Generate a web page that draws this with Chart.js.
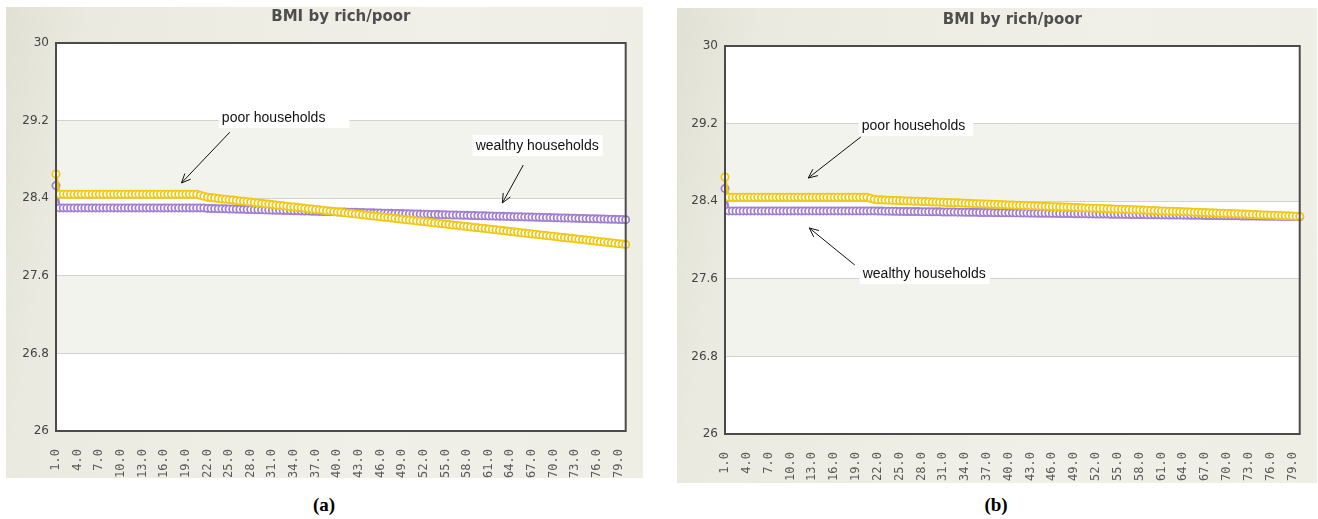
<!DOCTYPE html>
<html>
<head>
<meta charset="utf-8">
<script src="https://cdn.jsdelivr.net/npm/chart.js@4.4.1/dist/chart.umd.min.js"></script>
<style>
body { margin: 0; background: #fff; width: 1318px; height: 519px; position: relative; overflow: hidden; }
.panel { position: absolute; background: linear-gradient(100deg, #e0e1d3 0%, #eaeae0 12%, #f0f0e8 60%, #eeeee5 100%); }
.panel canvas { display: block; }
.cap { position: absolute; top: 495px; width: 60px; text-align: center; font: bold 19px "Liberation Serif", serif; line-height: 20px; color: #000; }
</style>
</head>
<body>
<div class="panel" style="left:6px;top:7px;width:637px;height:471px"><canvas id="chartA" width="637" height="471"></canvas></div>
<div class="panel" style="left:677px;top:8px;width:640px;height:475px"><canvas id="chartB" width="640" height="475"></canvas></div>
<div class="cap" style="left:294px">(a)</div>
<div class="cap" style="left:966px">(b)</div>
<script>
// x categories (time step)
const xLabels = [
  "1.0","1.5","2.0","2.5","3.0","3.5","4.0","4.5","5.0","5.5",
  "6.0","6.5","7.0","7.5","8.0","8.5","9.0","9.5","10.0","10.5",
  "11.0","11.5","12.0","12.5","13.0","13.5","14.0","14.5","15.0","15.5",
  "16.0","16.5","17.0","17.5","18.0","18.5","19.0","19.5","20.0","20.5",
  "21.0","21.5","22.0","22.5","23.0","23.5","24.0","24.5","25.0","25.5",
  "26.0","26.5","27.0","27.5","28.0","28.5","29.0","29.5","30.0","30.5",
  "31.0","31.5","32.0","32.5","33.0","33.5","34.0","34.5","35.0","35.5",
  "36.0","36.5","37.0","37.5","38.0","38.5","39.0","39.5","40.0","40.5",
  "41.0","41.5","42.0","42.5","43.0","43.5","44.0","44.5","45.0","45.5",
  "46.0","46.5","47.0","47.5","48.0","48.5","49.0","49.5","50.0","50.5",
  "51.0","51.5","52.0","52.5","53.0","53.5","54.0","54.5","55.0","55.5",
  "56.0","56.5","57.0","57.5","58.0","58.5","59.0","59.5","60.0","60.5",
  "61.0","61.5","62.0","62.5","63.0","63.5","64.0","64.5","65.0","65.5",
  "66.0","66.5","67.0","67.5","68.0","68.5","69.0","69.5","70.0","70.5",
  "71.0","71.5","72.0","72.5","73.0","73.5","74.0","74.5","75.0","75.5",
  "76.0","76.5","77.0","77.5","78.0","78.5","79.0","79.5","80.0"
]

const yTicks = [26, 26.8, 27.6, 28.4, 29.2, 30]

// panel (a)
const poorA = [
  28.65,28.44,28.44,28.44,28.44,28.44,28.44,28.44,28.44,28.44,
  28.44,28.44,28.44,28.44,28.44,28.44,28.44,28.44,28.44,28.44,
  28.44,28.44,28.44,28.44,28.44,28.44,28.44,28.44,28.44,28.44,
  28.44,28.44,28.44,28.44,28.44,28.44,28.44,28.44,28.44,28.44,
  28.43,28.42,28.410,28.406,28.402,28.397,28.393,28.389,28.385,28.381,
  28.376,28.372,28.368,28.364,28.360,28.355,28.351,28.347,28.343,28.339,
  28.334,28.330,28.326,28.322,28.318,28.313,28.309,28.305,28.301,28.297,
  28.292,28.288,28.284,28.280,28.276,28.271,28.267,28.263,28.259,28.255,
  28.250,28.246,28.242,28.238,28.234,28.229,28.225,28.221,28.217,28.213,
  28.208,28.204,28.200,28.196,28.192,28.187,28.183,28.179,28.175,28.171,
  28.166,28.162,28.158,28.154,28.150,28.145,28.141,28.137,28.133,28.129,
  28.124,28.120,28.116,28.112,28.108,28.103,28.099,28.095,28.091,28.087,
  28.082,28.078,28.074,28.070,28.066,28.061,28.057,28.053,28.049,28.045,
  28.040,28.036,28.032,28.028,28.024,28.019,28.015,28.011,28.007,28.003,
  27.998,27.994,27.990,27.986,27.982,27.977,27.973,27.969,27.965,27.961,
  27.956,27.952,27.948,27.944,27.940,27.935,27.931,27.927,27.923
]
const wealthyA = [
  28.53,28.30,28.30,28.30,28.30,28.30,28.30,28.30,28.30,28.30,
  28.30,28.30,28.30,28.30,28.30,28.30,28.30,28.30,28.30,28.30,
  28.30,28.30,28.30,28.30,28.30,28.30,28.30,28.30,28.30,28.30,
  28.30,28.30,28.30,28.30,28.30,28.30,28.30,28.30,28.30,28.30,
  28.30,28.30,28.295,28.294,28.293,28.292,28.291,28.290,28.289,28.288,
  28.287,28.286,28.285,28.284,28.283,28.282,28.281,28.280,28.279,28.278,
  28.277,28.276,28.275,28.274,28.273,28.272,28.271,28.270,28.269,28.268,
  28.267,28.266,28.265,28.264,28.263,28.262,28.261,28.260,28.259,28.258,
  28.257,28.256,28.255,28.254,28.253,28.252,28.251,28.250,28.249,28.248,
  28.247,28.246,28.245,28.244,28.243,28.242,28.241,28.240,28.239,28.238,
  28.237,28.236,28.235,28.234,28.233,28.232,28.231,28.230,28.229,28.228,
  28.227,28.226,28.225,28.224,28.223,28.222,28.221,28.220,28.219,28.218,
  28.217,28.216,28.215,28.214,28.213,28.212,28.211,28.210,28.209,28.208,
  28.207,28.206,28.205,28.204,28.203,28.202,28.201,28.200,28.199,28.198,
  28.197,28.196,28.195,28.194,28.193,28.192,28.191,28.190,28.189,28.188,
  28.187,28.186,28.185,28.184,28.183,28.182,28.181,28.180,28.179
]

// panel (b)
const poorB = [
  28.65,28.44,28.44,28.44,28.44,28.44,28.44,28.44,28.44,28.44,
  28.44,28.44,28.44,28.44,28.44,28.44,28.44,28.44,28.44,28.44,
  28.44,28.44,28.44,28.44,28.44,28.44,28.44,28.44,28.44,28.44,
  28.44,28.44,28.44,28.44,28.44,28.44,28.44,28.44,28.44,28.44,
  28.43,28.42,28.415,28.414,28.412,28.411,28.409,28.408,28.406,28.405,
  28.403,28.402,28.400,28.399,28.397,28.396,28.394,28.393,28.391,28.390,
  28.389,28.387,28.386,28.384,28.383,28.381,28.380,28.378,28.377,28.375,
  28.374,28.372,28.371,28.369,28.368,28.366,28.365,28.364,28.362,28.361,
  28.359,28.358,28.356,28.355,28.353,28.352,28.350,28.349,28.347,28.346,
  28.344,28.343,28.342,28.340,28.339,28.337,28.336,28.334,28.333,28.331,
  28.330,28.328,28.327,28.325,28.324,28.322,28.321,28.319,28.318,28.317,
  28.315,28.314,28.312,28.311,28.309,28.308,28.306,28.305,28.303,28.302,
  28.300,28.299,28.297,28.296,28.295,28.293,28.292,28.290,28.289,28.287,
  28.286,28.284,28.283,28.281,28.280,28.278,28.277,28.275,28.274,28.272,
  28.271,28.270,28.268,28.267,28.265,28.264,28.262,28.261,28.259,28.258,
  28.256,28.255,28.253,28.252,28.250,28.249,28.247,28.246,28.244
]
const wealthyB = [
  28.53,28.30,28.30,28.30,28.30,28.30,28.30,28.30,28.30,28.30,
  28.30,28.30,28.30,28.30,28.30,28.30,28.30,28.30,28.30,28.30,
  28.30,28.30,28.30,28.30,28.30,28.30,28.30,28.30,28.30,28.30,
  28.30,28.30,28.30,28.30,28.30,28.30,28.30,28.30,28.30,28.30,
  28.30,28.30,28.298,28.298,28.297,28.297,28.296,28.296,28.295,28.295,
  28.294,28.294,28.293,28.293,28.292,28.292,28.291,28.291,28.290,28.290,
  28.289,28.289,28.288,28.288,28.287,28.287,28.286,28.286,28.285,28.285,
  28.284,28.284,28.283,28.283,28.282,28.282,28.281,28.281,28.280,28.280,
  28.279,28.279,28.278,28.278,28.277,28.277,28.276,28.276,28.275,28.275,
  28.274,28.274,28.273,28.273,28.272,28.272,28.271,28.271,28.270,28.270,
  28.269,28.269,28.268,28.268,28.267,28.267,28.266,28.266,28.265,28.265,
  28.264,28.264,28.263,28.263,28.262,28.262,28.261,28.261,28.260,28.260,
  28.259,28.259,28.258,28.258,28.257,28.257,28.256,28.256,28.255,28.255,
  28.254,28.254,28.253,28.253,28.252,28.252,28.251,28.251,28.250,28.250,
  28.249,28.249,28.248,28.248,28.247,28.247,28.246,28.246,28.245,28.245,
  28.244,28.244,28.243,28.243,28.242,28.242,28.241,28.241,28.240
]

const chartTitle = "BMI by rich/poor"
const yellow = "#f0c814"
const purple = "#a17ed0"

// annotation boxes + arrows, positioned in data units (x in time steps, y in BMI)
const notesA = [
  { text: "poor households", x: 24.0, y: 29.237, padR: 24, from: [25.1, 29.08], to: [18.4, 28.557] },
  { text: "wealthy households", x: 59.2, y: 28.948, padR: 4, from: [65.8, 28.742], to: [62.9, 28.351] }
]
const notesB = [
  { text: "poor households", x: 19.8, y: 29.186, padR: 8, from: [19.66, 29.062], to: [12.44, 28.639] },
  { text: "wealthy households", x: 19.93, y: 27.66, padR: 4, from: [18.84, 27.742], to: [12.58, 28.124] }
]

Chart.defaults.font.family = "DejaVu Sans"

function xIndex(v) {
    return (v - 1) * 2
}

const deco = {
    id: "deco",
    beforeDraw(chart, args, opts) {
        let ctx = chart.ctx
        let a = chart.chartArea
        let y = chart.scales.y
        ctx.save()
        ctx.fillStyle = "#ffffff"
        ctx.fillRect(a.left, a.top, a.right - a.left, a.bottom - a.top)
        ctx.fillStyle = "#f3f3ee"
        opts.bands.forEach(function (b) {
            let y1 = y.getPixelForValue(b[1])
            let y0 = y.getPixelForValue(b[0])
            ctx.fillRect(a.left, y1, a.right - a.left, y0 - y1)
        })
        ctx.restore()
    },
    afterDatasetsDraw(chart) {
        let ctx = chart.ctx
        let a = chart.chartArea
        ctx.save()
        ctx.strokeStyle = "#4b4b4b"
        ctx.lineWidth = 2
        ctx.strokeRect(a.left, a.top, a.right - a.left, a.bottom - a.top)
        ctx.restore()
    },
    afterDraw(chart, args, opts) {
        let ctx = chart.ctx
        let a = chart.chartArea
        let xs = chart.scales.x
        let ys = chart.scales.y
        ctx.save()
        ctx.fillStyle = "#4e4e4e"
        ctx.font = "bold 15px 'DejaVu Sans'"
        ctx.textAlign = "center"
        ctx.textBaseline = "middle"
        ctx.fillText(opts.title, (a.left + a.right) / 2, a.top - 26)

        ctx.font = "14px 'Liberation Sans'"
        ctx.textAlign = "left"
        opts.notes.forEach(function (n) {
            let px = xs.getPixelForValue(xIndex(n.x))
            let py = ys.getPixelForValue(n.y)
            let w = ctx.measureText(n.text).width
            ctx.fillStyle = "#ffffff"
            ctx.fillRect(px - 3, py - 10, w + 3 + n.padR, 21)
            ctx.fillStyle = "#111"
            ctx.fillText(n.text, px, py + 1)

            let x0 = xs.getPixelForValue(xIndex(n.from[0]))
            let y0 = ys.getPixelForValue(n.from[1])
            let x1 = xs.getPixelForValue(xIndex(n.to[0]))
            let y1 = ys.getPixelForValue(n.to[1])
            let ang = Math.atan2(y1 - y0, x1 - x0)
            ctx.strokeStyle = "#111"
            ctx.lineWidth = 1
            ctx.beginPath()
            ctx.moveTo(x0, y0)
            ctx.lineTo(x1, y1)
            ctx.moveTo(x1 - 10 * Math.cos(ang - 0.42), y1 - 10 * Math.sin(ang - 0.42))
            ctx.lineTo(x1, y1)
            ctx.lineTo(x1 - 10 * Math.cos(ang + 0.42), y1 - 10 * Math.sin(ang + 0.42))
            ctx.stroke()
        })
        ctx.restore()
    }
}

function series(label, data, color) {
    return {
        label: label,
        data: data,
        borderColor: color,
        borderWidth: 2.5,
        pointRadius: 3.6,
        pointBorderWidth: 1.8,
        pointBackgroundColor: "#ffffff",
        pointBorderColor: color,
        tension: 0,
        clip: false
    }
}

function makeChart(id, poor, wealthy, notes, pad) {
    return new Chart(document.getElementById(id), {
        type: "line",
        data: {
            labels: xLabels,
            datasets: [series("poor households", poor, yellow), series("wealthy households", wealthy, purple)]
        },
        options: {
            responsive: false,
            animation: false,
            events: [],
            layout: { padding: { top: pad.top, right: pad.right, left: 0, bottom: 0 } },
            plugins: {
                legend: { display: false },
                tooltip: { enabled: false },
                deco: { title: chartTitle, bands: [[28.4, 29.2], [26.8, 27.6]], notes: notes }
            },
            scales: {
                x: {
                    grid: { display: false },
                    border: { display: false },
                    afterFit: function (s) { s.height = pad.bottom },
                    ticks: {
                        autoSkip: false,
                        minRotation: 90,
                        maxRotation: 90,
                        padding: 10,
                        color: "#5a5a5a",
                        font: { family: "DejaVu Sans Mono", size: 12 },
                        callback: function (val, i) {
                            return i % 6 === 0 ? this.getLabelForValue(val) : null
                        }
                    }
                },
                y: {
                    min: 26,
                    max: 30,
                    afterFit: function (s) { s.width = pad.left },
                    afterBuildTicks: function (s) {
                        s.ticks = yTicks.map(function (v) { return { value: v } })
                    },
                    grid: { color: "#d2d2d2", lineWidth: 1, drawTicks: false },
                    border: { display: false },
                    ticks: {
                        padding: 7,
                        color: "#444444",
                        font: { size: 12 },
                        callback: function (v) { return String(v) }
                    }
                }
            }
        },
        plugins: [deco]
    })
}

makeChart("chartA", poorA, wealthyA, notesA, { top: 36, right: 10, left: 50, bottom: 47 })
makeChart("chartB", poorB, wealthyB, notesB, { top: 38, right: 12, left: 48, bottom: 49 })
</script>
</body>
</html>
